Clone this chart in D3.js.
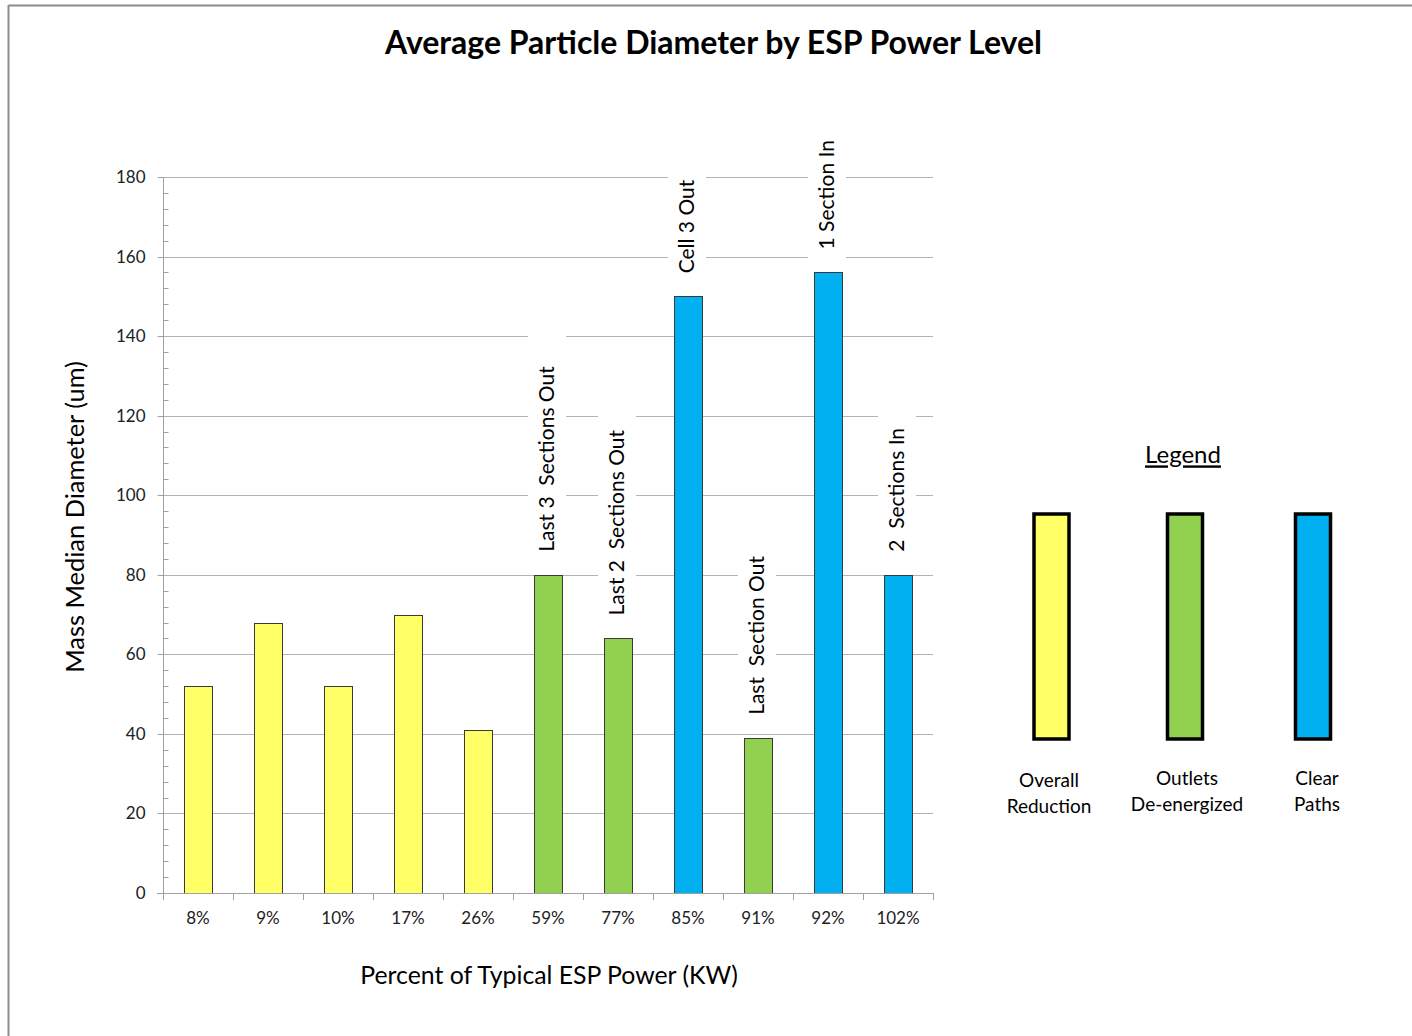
<!DOCTYPE html>
<html>
<head>
<meta charset="utf-8">
<script src="https://cdn.jsdelivr.net/npm/d3@7"></script>
<style>
  html, body { margin: 0; padding: 0; background: #fff; }
  svg { display: block; }
  text { font-family: Lato, "Open Sans", sans-serif; }
</style>
</head>
<body>
<script>
// ---- data ----
const categories = ["8%", "9%", "10%", "17%", "26%", "59%", "77%", "85%", "91%", "92%", "102%"];
const diameters = [52, 68, 52, 70, 41, 80, 64, 150, 39, 156, 80];
const groups = ["Overall Reduction", "Overall Reduction", "Overall Reduction", "Overall Reduction", "Overall Reduction",
                "Outlets De-energized", "Outlets De-energized", "Clear Paths", "Outlets De-energized", "Clear Paths", "Clear Paths"];
const groupNames = ["Overall Reduction", "Outlets De-energized", "Clear Paths"];
const groupLabels = [["Overall", "Reduction"], ["Outlets", "De-energized"], ["Clear", "Paths"]];
const groupColors = ["#FFFF66", "#92D050", "#00B0F0"];
const annotationCats = ["59%", "77%", "85%", "91%", "92%", "102%"];
const annotationTexts = ["Last 3  Sections Out", "Last 2  Sections Out", "Cell 3 Out", "Last  Section Out", "1 Section In", "2  Sections In"];
const yTicks = [0, 20, 40, 60, 80, 100, 120, 140, 160, 180];
const titleText = "Average Particle Diameter by ESP Power Level";
const yTitle = "Mass Median Diameter (um)";
const xTitle = "Percent of Typical ESP Power (KW)";

// ---- layout ----
const W = 1412, H = 1036;
const plot = { left: 163, right: 933, top: 177, bottom: 893 };
const annoPadTop = [40, 14, 14, 14, 14, 14];

const svg = d3.select("body").append("svg").attr("width", W).attr("height", H);

// frame
svg.append("line").attr("x1", 8.5).attr("x2", W).attr("y1", 5.5).attr("y2", 5.5)
  .attr("stroke", "#8c8c8c").attr("stroke-width", 2);
svg.append("line").attr("x1", 8.5).attr("x2", 8.5).attr("y1", 5).attr("y2", H)
  .attr("stroke", "#8c8c8c").attr("stroke-width", 2);

const x = d3.scaleBand().domain(categories).range([plot.left, plot.right])
  .paddingInner(0.6).paddingOuter(0.3);
const y = d3.scaleLinear().domain([0, 180]).range([plot.bottom, plot.top]);
const color = d3.scaleOrdinal().domain(groupNames).range(groupColors);

// title
svg.append("text").attr("x", 713.5).attr("y", 43).attr("dy", "0.35em")
  .attr("text-anchor", "middle").attr("font-size", 32).attr("font-weight", 700)
  .attr("fill", "#000").text(titleText);

// gridlines
svg.append("g").selectAll("line").data(yTicks.filter(d => d > 0)).join("line")
  .attr("x1", plot.left).attr("x2", plot.right)
  .attr("y1", d => Math.round(y(d)) + 0.5).attr("y2", d => Math.round(y(d)) + 0.5)
  .attr("stroke", "#b3b3b3").attr("stroke-width", 1);

// annotation white boxes + text
const annoG = svg.append("g");
annotationCats.forEach((c, i) => {
  const idx = categories.indexOf(c);
  const cx = x(c) + x.bandwidth() / 2 - 1;
  const top = y(diameters[idx]);
  const start = top - 23;
  const t = annoG.append("text")
    .attr("transform", `translate(${cx},${start}) rotate(-90)`)
    .attr("dy", "0.35em").attr("font-size", 21).attr("fill", "#000")
    .style("white-space", "pre").attr("xml:space", "preserve")
    .text(annotationTexts[i]);
  const len = t.node().getComputedTextLength();
  const boxTop = start - len - annoPadTop[i];
  const boxBottom = Math.min(top - 1, start + 18);
  annoG.insert("rect", "text")
    .attr("x", cx - 19).attr("width", 38)
    .attr("y", boxTop).attr("height", boxBottom - boxTop)
    .attr("fill", "#fff");
});

// bars
svg.append("g").selectAll("rect").data(categories).join("rect")
  .attr("x", d => Math.round(x(d)) + 0.5)
  .attr("width", Math.round(x.bandwidth()))
  .attr("y", (d, i) => Math.round(y(diameters[i])) + 0.5)
  .attr("height", (d, i) => Math.round(y(0)) - Math.round(y(diameters[i])))
  .attr("fill", (d, i) => color(groups[i]))
  .attr("stroke", "#3a3a3a").attr("stroke-width", 1);

// y axis
const yAxisG = svg.append("g").attr("transform", `translate(${plot.left + 0.5},0)`);
yAxisG.append("line").attr("y1", plot.top).attr("y2", plot.bottom)
  .attr("stroke", "#a0a0a0");
const minorTicks = d3.range(4, 180, 4).filter(v => v % 20 !== 0);
yAxisG.selectAll(".minor").data(minorTicks).join("line")
  .attr("x1", 0).attr("x2", 5)
  .attr("y1", d => Math.round(y(d)) + 0.5).attr("y2", d => Math.round(y(d)) + 0.5)
  .attr("stroke", "#a0a0a0");
yAxisG.selectAll(".major").data(yTicks).join("line")
  .attr("x1", -6).attr("x2", 0)
  .attr("y1", d => Math.round(y(d)) + 0.5).attr("y2", d => Math.round(y(d)) + 0.5)
  .attr("stroke", "#a0a0a0");
yAxisG.selectAll("text").data(yTicks).join("text")
  .attr("x", -18).attr("y", d => y(d)).attr("dy", "0.35em")
  .attr("text-anchor", "end").attr("font-size", 17).attr("fill", "#222")
  .text(d => d);

// x axis
const xAxisG = svg.append("g");
xAxisG.append("line").attr("x1", plot.left - 6).attr("x2", plot.right)
  .attr("y1", Math.round(plot.bottom) + 0.5).attr("y2", Math.round(plot.bottom) + 0.5)
  .attr("stroke", "#a0a0a0");
const boundaries = categories.map((c, i) => plot.left + i * x.step());
boundaries.push(plot.right);
xAxisG.selectAll(".tick").data(boundaries).join("line")
  .attr("x1", d => Math.round(d) + 0.5).attr("x2", d => Math.round(d) + 0.5)
  .attr("y1", plot.bottom).attr("y2", plot.bottom + 7)
  .attr("stroke", "#a0a0a0");
xAxisG.selectAll("text").data(categories).join("text")
  .attr("x", d => x(d) + x.bandwidth() / 2).attr("y", 918).attr("dy", "0.35em")
  .attr("text-anchor", "middle").attr("font-size", 17).attr("fill", "#222")
  .text(d => d);

// axis titles
svg.append("text").attr("transform", `translate(75,517) rotate(-90)`)
  .attr("dy", "0.35em").attr("text-anchor", "middle").attr("font-size", 25.4)
  .attr("fill", "#000").text(yTitle);
svg.append("text").attr("x", 549).attr("y", 975).attr("dy", "0.35em")
  .attr("text-anchor", "middle").attr("font-size", 24.8)
  .attr("fill", "#000").text(xTitle);

// legend
const legendX = [1051.5, 1185, 1313];
const labelX = [1049, 1187, 1317];
svg.append("text").attr("x", 1183).attr("y", 455).attr("dy", "0.35em")
  .attr("text-anchor", "middle").attr("font-size", 24).attr("fill", "#000")
  .attr("text-decoration", "underline").text("Legend");
const lg = svg.append("g");
lg.selectAll("rect").data(groupNames).join("rect")
  .attr("x", (d, i) => legendX[i] - 17.5).attr("width", 35)
  .attr("y", 514).attr("height", 225)
  .attr("fill", d => color(d)).attr("stroke", "#000").attr("stroke-width", 3.5);
groupNames.forEach((g, i) => {
  const t = lg.append("text").attr("x", labelX[i]).attr("y", i === 0 ? 780 : 778)
    .attr("text-anchor", "middle").attr("font-size", 19).attr("fill", "#000");
  groupLabels[i].forEach((line, j) => {
    t.append("tspan").attr("x", labelX[i]).attr("dy", j === 0 ? "0.35em" : "1.4em").text(line);
  });
});
</script>
</body>
</html>
